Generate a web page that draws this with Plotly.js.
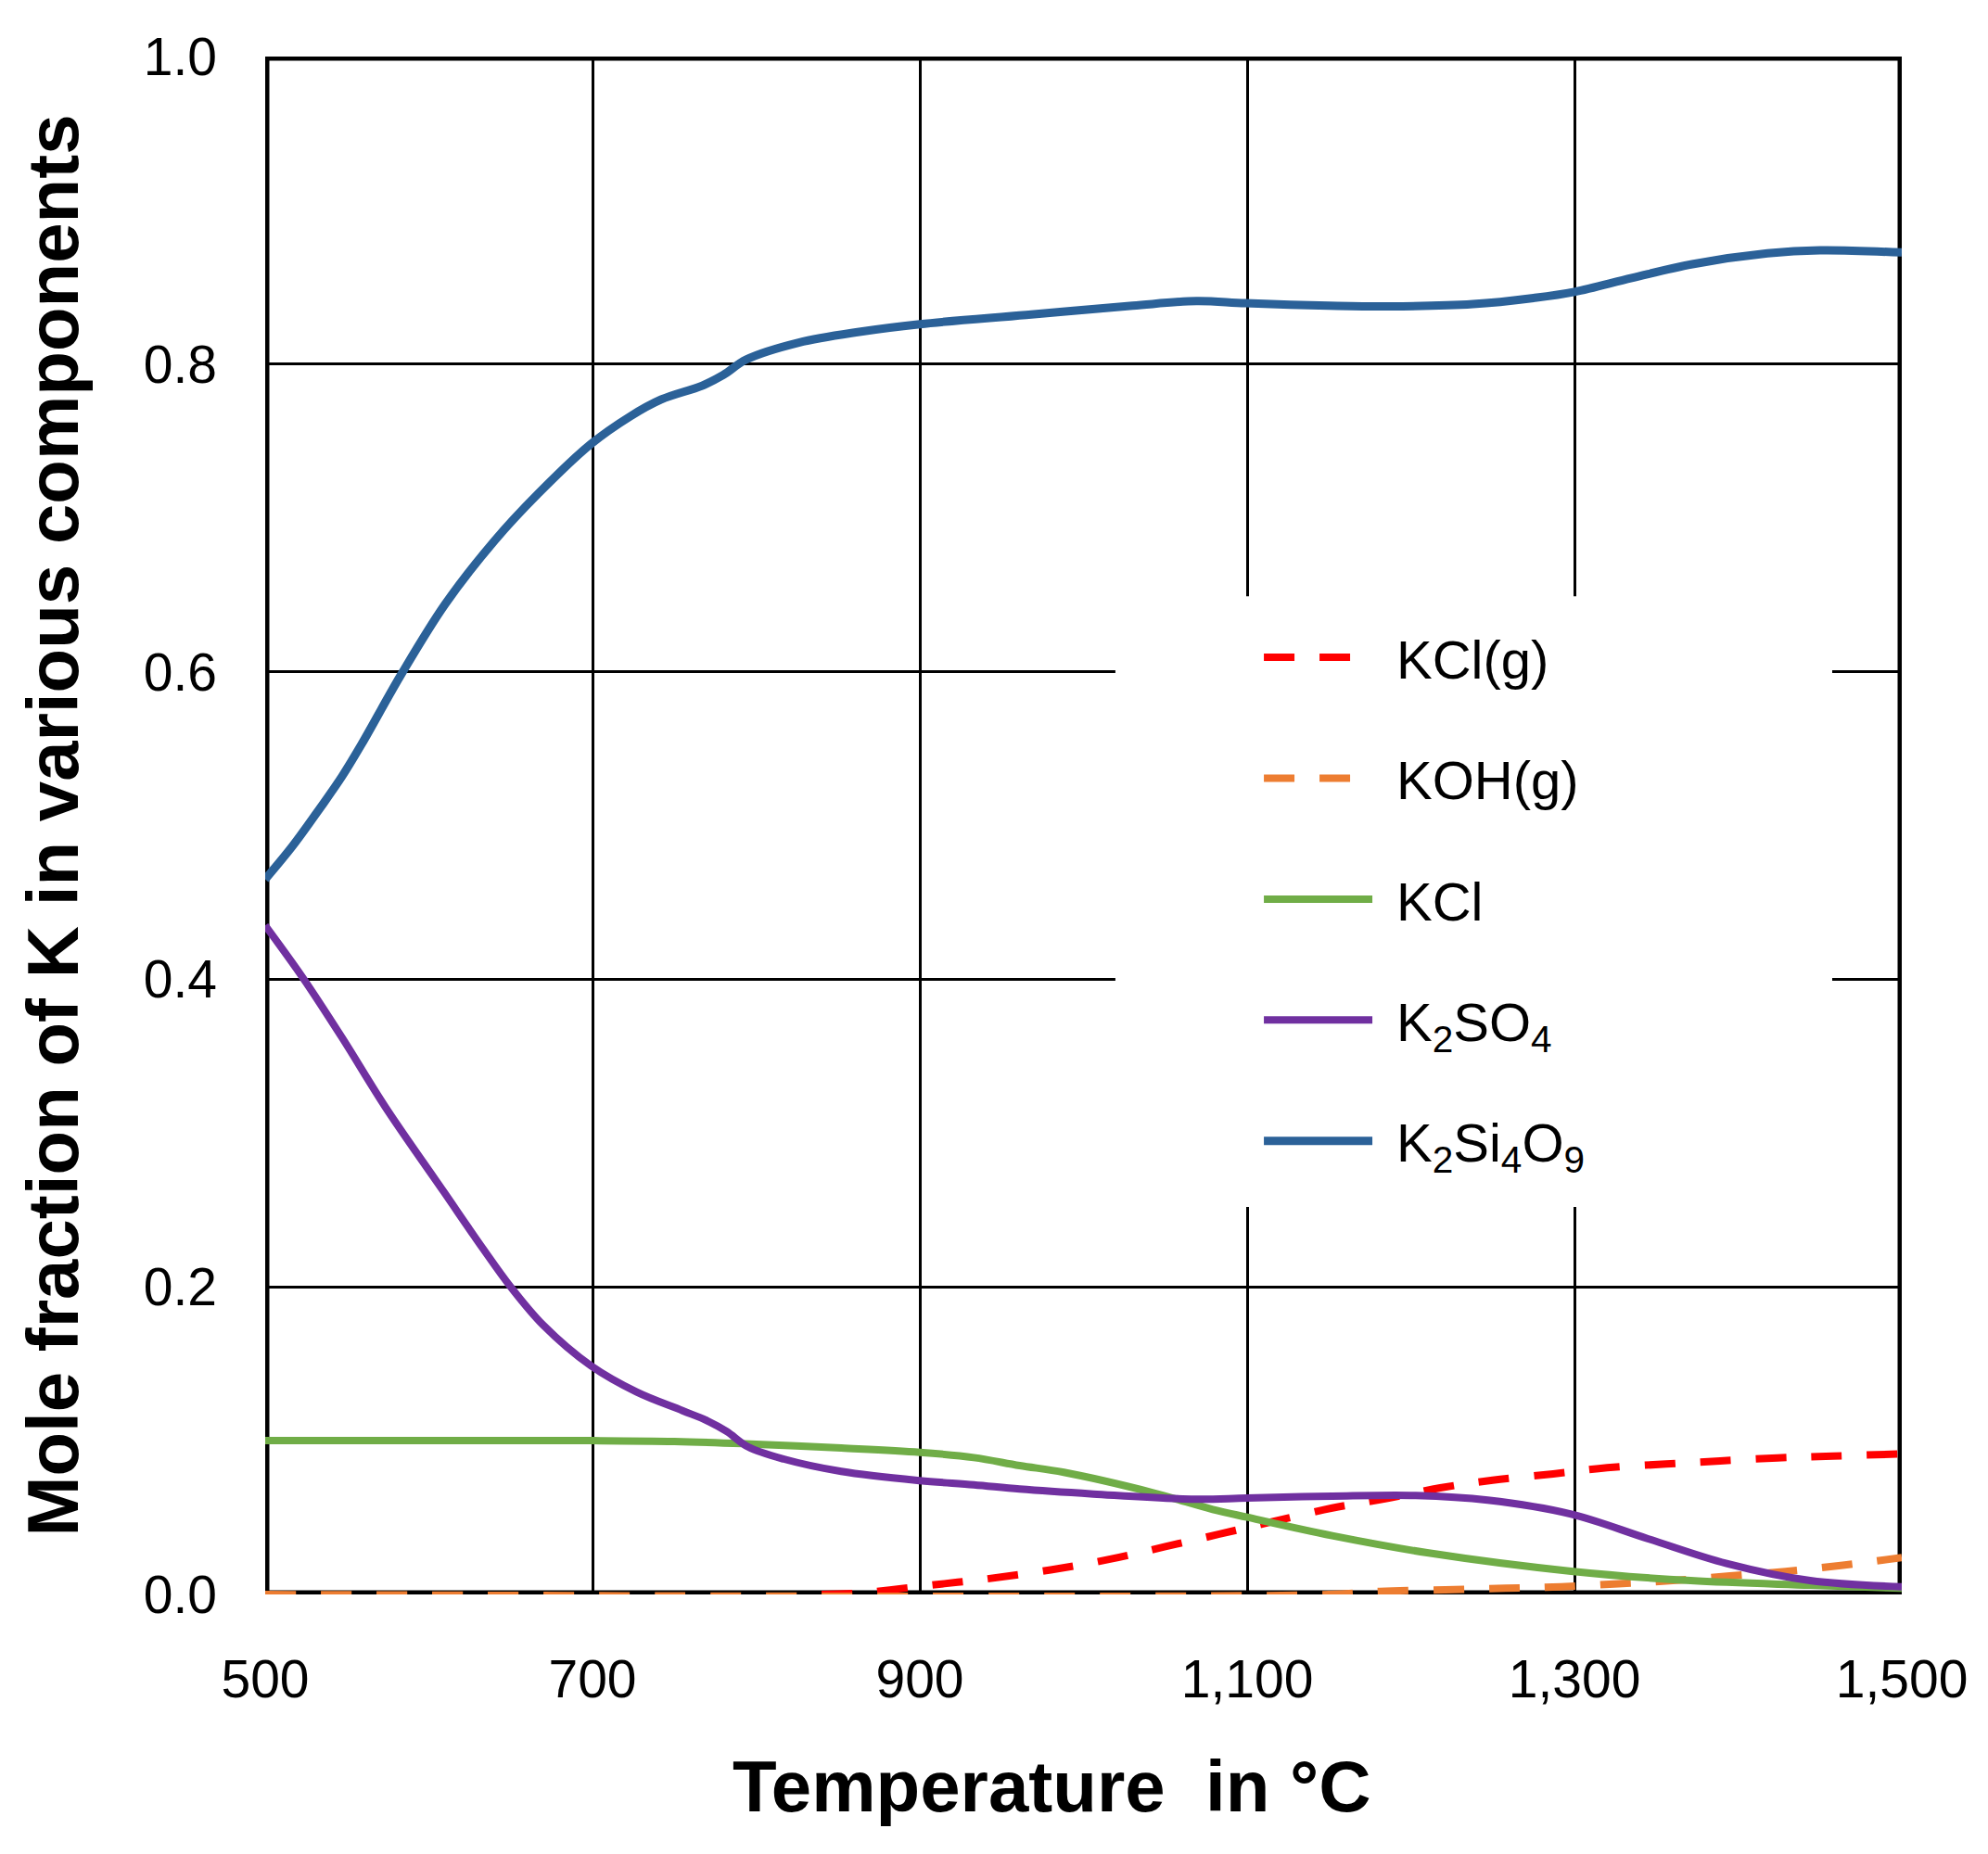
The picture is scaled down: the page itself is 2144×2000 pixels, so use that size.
<!DOCTYPE html>
<html>
<head>
<meta charset="utf-8">
<script src="https://cdn.plot.ly/plotly-3.0.1.min.js"></script>
<style>
  html, body { margin: 0; padding: 0; background: #fff; }
  #chart { width: 2144px; height: 2000px; }
</style>
</head>
<body>
<div id="chart"></div>
<script>
// --- DATA ---
const kclgT = [840, 865, 890, 915, 940, 980, 1017, 1050, 1083, 1115, 1152, 1185, 1218, 1250, 1287, 1320, 1356, 1389, 1424, 1458, 1500];
const kclgY = [0, 0.001, 0.004, 0.007, 0.010, 0.016, 0.0231, 0.0311, 0.0392, 0.0472, 0.0562, 0.0623, 0.0693, 0.0743, 0.0784, 0.0824, 0.0848, 0.0868, 0.0888, 0.0900, 0.0914];

const kohT = [500, 1150, 1181, 1221, 1258, 1292, 1327, 1360, 1395, 1429, 1464, 1500];
const kohY = [0, 0, 0.002, 0.003, 0.004, 0.005, 0.007, 0.009, 0.012, 0.015, 0.019, 0.024];

const kclT = [500, 600, 700, 750, 793, 852, 900, 933, 961, 988, 1042, 1079, 1100, 1152, 1210, 1298, 1371, 1444, 1500];
const kclY = [0.100, 0.100, 0.100, 0.0995, 0.098, 0.0952, 0.0924, 0.089, 0.0838, 0.0794, 0.0663, 0.0553, 0.0502, 0.0382, 0.0271, 0.0151, 0.009, 0.006, 0.004];

const k2so4T = [500, 523, 547, 574, 609, 633, 650, 670, 699, 727, 755, 770, 782, 795, 817, 852, 900, 933, 961, 1006, 1068, 1100, 1152, 1203, 1247, 1298, 1345, 1393, 1444, 1500];
const k2so4Y = [0.435, 0.401, 0.362, 0.316, 0.262, 0.225, 0.200, 0.175, 0.1487, 0.1316, 0.1195, 0.113, 0.106, 0.096, 0.088, 0.080, 0.074, 0.0713, 0.0685, 0.0653, 0.0619, 0.0627, 0.0639, 0.0643, 0.0613, 0.0522, 0.0362, 0.0201, 0.009, 0.005];

const k2si4o9T = [500, 517, 534, 547, 559, 583, 610, 640, 667, 699, 723, 742, 767, 780, 794, 826, 863, 900, 965, 1030, 1069, 1099, 1150, 1187, 1238, 1275, 1300, 1335, 1372, 1418, 1450, 1500];
const k2si4o9Y = [0.465, 0.487, 0.512, 0.532, 0.553, 0.598, 0.644, 0.685, 0.716, 0.748, 0.766, 0.777, 0.786, 0.793, 0.803, 0.814, 0.821, 0.826, 0.832, 0.838, 0.841, 0.8396, 0.838, 0.8375, 0.839, 0.843, 0.847, 0.856, 0.865, 0.872, 0.874, 0.8726];

const xTicks = [500, 700, 900, 1100, 1300, 1500];
const yTicks = [0, 0.2, 0.4, 0.6, 0.8, 1.0];

const FONT = 'Liberation Sans, Arial, sans-serif';
const GAP = '\u00A0\u200A'; // space between legend sample and label

function series(name, x, y, color, dash, width) {
	return {
		x: x, y: y, name: GAP + name, legendgroup: name,
		type: 'scatter', mode: 'lines',
		line: { color: color, width: width, dash: dash, shape: 'spline', smoothing: 1 },
		hoverinfo: 'skip'
	};
}

const traces = [
	series('KCl(g)', kclgT, kclgY, '#FF0000', '33px,27px', 8),
	series('KOH(g)', kohT, kohY, '#ED7D31', '33px,27px', 8),
	series('KCl', kclT, kclY, '#70AD47', 'solid', 8),
	series('K<sub>2</sub>SO<sub>4</sub>', k2so4T, k2so4Y, '#7030A0', 'solid', 8),
	series('K<sub>2</sub>Si<sub>4</sub>O<sub>9</sub>', k2si4o9T, k2si4o9Y, '#2B6198', 'solid', 9)
];

const layout = {
	width: 2144,
	height: 2000,
	margin: { l: 286, r: 93, t: 61, b: 280 },
	paper_bgcolor: '#fff',
	plot_bgcolor: '#fff',
	font: { family: FONT, color: '#000', size: 57 },
	showlegend: true,
	legend: {
		x: 0.6074, y: 0.636, xanchor: 'left', yanchor: 'top',
		bgcolor: 'rgba(0,0,0,0)',
		font: { family: FONT, size: 58, color: '#000' },
		traceorder: 'grouped',
		tracegroupgap: 52,
		itemwidth: 117
	},
	xaxis: {
		range: [500, 1500],
		tickvals: xTicks,
		tickformat: ',',
		ticks: '',
		ticklabelstandoff: 53,
		showgrid: true, gridcolor: '#000', gridwidth: 3,
		zeroline: false, showline: false,
		tickfont: { family: FONT, size: 57, color: '#000' }
	},
	yaxis: {
		range: [0, 1],
		tickvals: yTicks,
		tickformat: '.1f',
		ticks: '',
		ticklabelstandoff: 51,
		showgrid: true, gridcolor: '#000', gridwidth: 3,
		zeroline: false, showline: false,
		tickfont: { family: FONT, size: 57, color: '#000' },
		title: {
			text: 'Mole fraction of K in various components',
			font: { family: FONT, size: 78, color: '#000', weight: 'bold' },
			standoff: 44
		}
	},
	annotations: [
		// x-axis title sits a little left of the plot centre in the original
		{ text: 'Temperature  in °C', xref: 'paper', yref: 'paper', x: 0.4805, y: -0.1248,
		  xanchor: 'center', yanchor: 'middle', showarrow: false,
		  font: { family: FONT, size: 78, color: '#000', weight: 'bold' } }
	],
	shapes: [
		// plot frame
		{ type: 'rect', xref: 'x', yref: 'y', x0: 500, x1: 1500, y0: 0, y1: 1,
		  line: { color: '#000', width: 9 }, layer: 'below' },
		// white legend box hiding the grid
		{ type: 'rect', xref: 'paper', yref: 'paper', x0: 0.5195, x1: 0.9575, y0: 0.252, y1: 0.649,
		  fillcolor: '#fff', line: { width: 0 }, layer: 'above' }
	]
};

Plotly.newPlot('chart', traces, layout, { displayModeBar: false, staticPlot: true });
</script>
</body>
</html>
